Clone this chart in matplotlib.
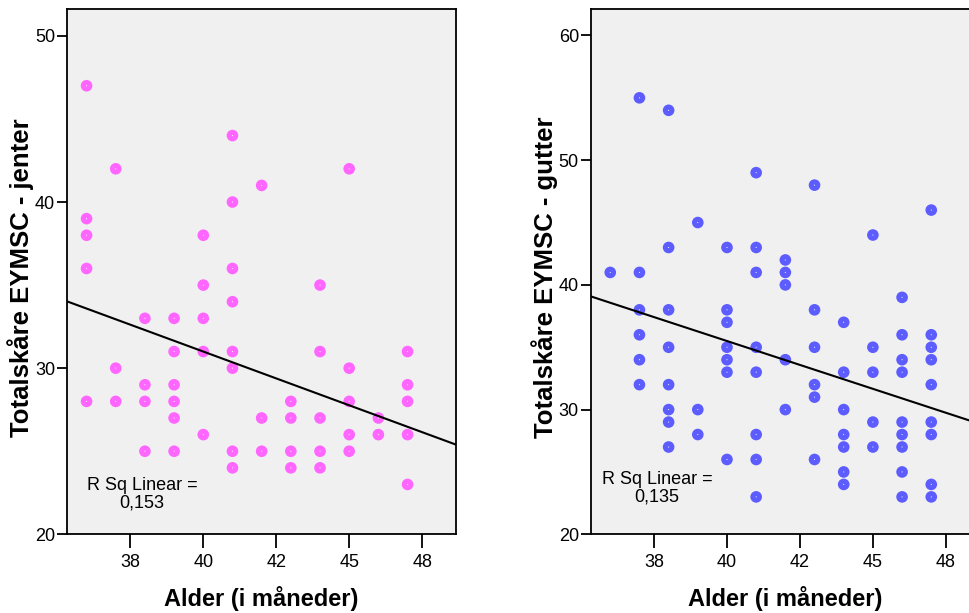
import matplotlib
matplotlib.use("Agg")
import matplotlib.pyplot as plt

plt.rcParams["font.family"] = ["Liberation Sans", "DejaVu Sans"]

# Jenter (venstre panel): alder i måneder og totalskåre
girls_age = [36, 36, 36, 36, 36,
             37, 37, 37,
             38, 38, 38, 38,
             39, 39, 39, 39, 39, 39,
             40, 40, 40, 40, 40,
             41, 41, 41, 41, 41, 41, 41, 41,
             42, 42, 42,
             43, 43, 43, 43,
             44, 44, 44, 44, 44,
             45, 45, 45, 45, 45,
             46, 46,
             47, 47, 47, 47, 47]
girls_score = [47, 39, 38, 36, 28,
               42, 30, 28,
               33, 29, 28, 25,
               33, 31, 29, 28, 27, 25,
               38, 35, 33, 31, 26,
               44, 40, 36, 34, 31, 30, 25, 24,
               41, 27, 25,
               28, 27, 25, 24,
               35, 31, 27, 25, 24,
               42, 30, 28, 26, 25,
               27, 26,
               31, 29, 28, 26, 23]

# Gutter (høyre panel)
boys_age = [36,
            37, 37, 37, 37, 37, 37,
            38, 38, 38, 38, 38, 38, 38, 38,
            39, 39, 39,
            40, 40, 40, 40, 40, 40, 40,
            41, 41, 41, 41, 41, 41, 41, 41,
            42, 42, 42, 42, 42,
            43, 43, 43, 43, 43, 43,
            44, 44, 44, 44, 44, 44, 44,
            45, 45, 45, 45, 45,
            46, 46, 46, 46, 46, 46, 46, 46, 46,
            47, 47, 47, 47, 47, 47, 47, 47, 47]
boys_score = [41,
              55, 41, 38, 36, 34, 32,
              54, 43, 38, 35, 32, 30, 29, 27,
              45, 30, 28,
              43, 38, 37, 35, 34, 33, 26,
              49, 43, 41, 35, 33, 28, 26, 23,
              42, 41, 40, 34, 30,
              48, 38, 35, 32, 31, 26,
              37, 33, 30, 28, 27, 25, 24,
              44, 35, 33, 29, 27,
              39, 36, 34, 33, 29, 28, 27, 25, 23,
              46, 36, 35, 34, 32, 29, 28, 24, 23]

# regresjonslinjer lest av figuren: (verdi ved 40 mnd, stigning)
girls_fit = (31.0, -0.647)
boys_fit = (35.5, -0.767)
girls_r2 = "R Sq Linear =\n0,153"
boys_r2 = "R Sq Linear =\n0,135"

x_ticks = [37.5, 40, 42.5, 45, 47.5]
x_ticklabels = ["38", "40", "42", "45", "48"]
girls_yticks = [20, 30, 40, 50]
boys_yticks = [20, 30, 40, 50, 60]

fig = plt.figure(figsize=(9.7, 6.13), dpi=100)
ax1 = fig.add_axes([67 / 970, 1 - 534.3 / 613, 389 / 970, 525 / 613])
ax2 = fig.add_axes([590.7 / 970, 1 - 534.3 / 613, 389 / 970, 525 / 613])

panels = [
    (ax1, girls_age, girls_score, "#ff66ff", girls_fit, girls_r2,
     (20, 51.6), girls_yticks, "Totalskåre EYMSC - jenter", (37.9, 22.4)),
    (ax2, boys_age, boys_score, "#5c5cff", boys_fit, boys_r2,
     (20, 62.1), boys_yticks, "Totalskåre EYMSC - gutter", (37.6, 23.7)),
]

for ax, age, score, col, fit, r2, ylim, yticks, ylabel, txt_pos in panels:
    ax.set_facecolor("#f0f0f0")
    ax.scatter(age, score, s=70, color=col, edgecolors="none", zorder=3)
    ax.scatter(age, score, s=0.6, color="white", edgecolors="none", zorder=4)

    xlim = (35.33, 48.66)
    ax.plot(xlim, [fit[0] + fit[1] * (v - 40) for v in xlim],
            color="black", lw=1.5, zorder=5)
    ax.set_xlim(xlim)
    ax.set_ylim(ylim)

    ax.set_xticks(x_ticks)
    ax.set_xticklabels(x_ticklabels, fontsize=13)
    ax.set_yticks(yticks)
    ax.set_yticklabels([str(t) for t in yticks], fontsize=13)
    ax.tick_params(axis="x", length=10, width=1.3, pad=4)
    ax.tick_params(axis="y", length=7, width=1.3, pad=1.5)
    for sp in ax.spines.values():
        sp.set_linewidth(1.3)

    ax.set_xlabel("Alder (i måneder)", fontsize=17, fontweight="bold")
    ax.xaxis.set_label_coords(0.5, -64 / 525)
    ax.xaxis.label.set_verticalalignment("center")
    ax.set_ylabel(ylabel, fontsize=18.5, fontweight="bold")
    ax.yaxis.set_label_coords(-33 / 389, 0.489)

    ax.text(txt_pos[0], txt_pos[1], r2, ha="center", va="center",
            multialignment="center", fontsize=13,
            linespacing=1.05, zorder=6)

fig.savefig("out.png", dpi=100)
